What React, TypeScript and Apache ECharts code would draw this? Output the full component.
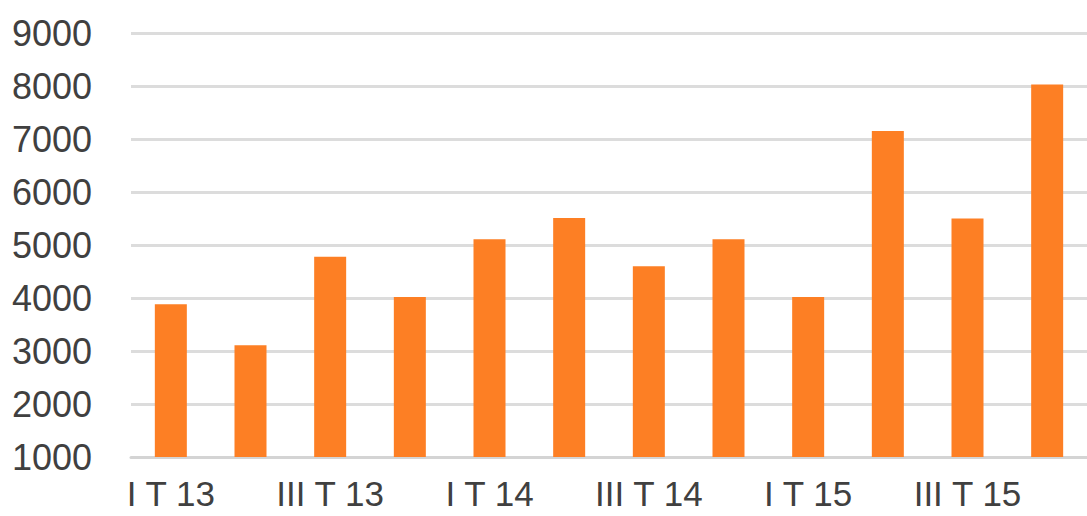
import React, { useEffect, useRef } from "react";
import * as echarts from "echarts";

const categories = [
  "I T 13", "II T 13", "III T 13", "IV T 13",
  "I T 14", "II T 14", "III T 14", "IV T 14",
  "I T 15", "II T 15", "III T 15", "IV T 15",
];
const values = [3880, 3110, 4780, 4020, 5110, 5510, 4600, 5110, 4020, 7150, 5500, 8030];
const yTicks = { min: 1000, max: 9000, interval: 1000 };

export default function App() {
  const ref = useRef<HTMLDivElement>(null);
  useEffect(() => {
    if (!ref.current) return;
    const chart = echarts.init(ref.current, undefined, { renderer: "svg" });
    chart.setOption({
      animation: false,
      backgroundColor: "#ffffff",
      grid: { left: 131, right: -7, top: 33, bottom: 59, containLabel: false },
      xAxis: {
        type: "category",
        data: categories,
        axisTick: { show: false },
        axisLine: { show: true, lineStyle: { color: "#d4d4d4", width: 3 } },
        axisLabel: {
          interval: 1,
          color: "#404040",
          fontFamily: "Liberation Sans, Arial, sans-serif",
          fontSize: 35,
          margin: 19,
        },
      },
      yAxis: {
        type: "value",
        min: yTicks.min,
        max: yTicks.max,
        interval: yTicks.interval,
        axisLine: { show: false },
        axisTick: { show: false },
        splitLine: { lineStyle: { color: "#dcdcdc", width: 3 } },
        axisLabel: {
          color: "#404040",
          fontFamily: "Liberation Sans, Arial, sans-serif",
          fontSize: 36,
          margin: 39,
          formatter: (v: number) => String(v),
        },
      },
      series: [
        {
          type: "bar",
          data: values,
          barWidth: 32,
          itemStyle: { color: "#fd7f24" },
        },
      ],
    });
    return () => chart.dispose();
  }, []);
  return (
    <div
      ref={ref}
      style={{ position: "absolute", left: 0, top: 0, width: 1087, height: 516 }}
    />
  );
}
